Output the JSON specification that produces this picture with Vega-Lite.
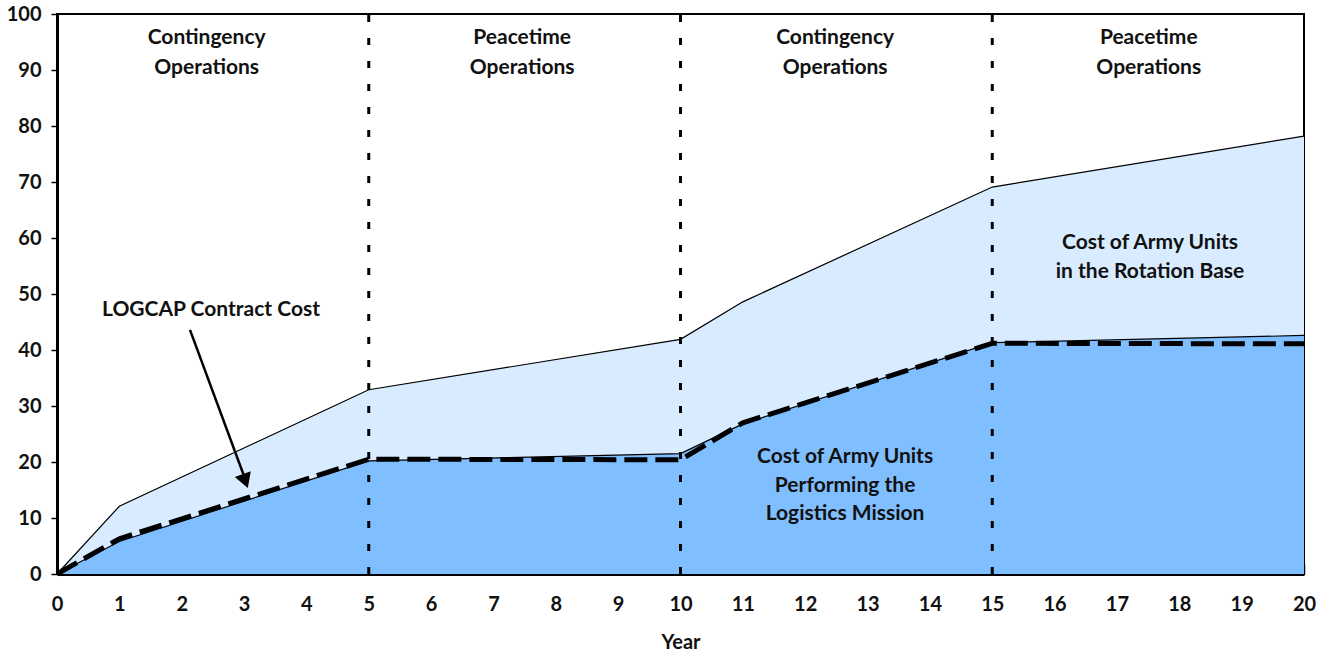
{
  "$schema": "https://vega.github.io/schema/vega-lite/v6.json",
  "autosize": "none",
  "width": 1247,
  "height": 560,
  "padding": {"left": 57, "top": 14, "right": 23, "bottom": 78},
  "background": "white",
  "config": {
    "font": "Lato",
    "view": {"stroke": "black", "strokeWidth": 2},
    "axis": {"grid": false, "labelFont": "Lato", "labelFontWeight": "bold", "labelFontSize": 20, "labelColor": "#111", "titleFont": "Lato", "titleFontWeight": "bold", "titleFontSize": 20, "titleColor": "#111", "domainColor": "black", "domainWidth": 3, "tickColor": "black", "tickWidth": 1.5}
  },
  "datasets": {
    "costs": [
      {"year": 0, "total": 0, "army": 0, "logcap": 0},
      {"year": 1, "total": 12.1, "army": 5.8, "logcap": 6.3},
      {"year": 5, "total": 32.9, "army": 20.2, "logcap": 20.5},
      {"year": 10, "total": 41.9, "army": 21.5, "logcap": 20.4},
      {"year": 11, "total": 48.6, "army": 26.8, "logcap": 27.0},
      {"year": 15, "total": 69.1, "army": 41.3, "logcap": 41.2},
      {"year": 20, "total": 78.2, "army": 42.6, "logcap": 41.1}
    ],
    "phases": [{"year": 5}, {"year": 10}, {"year": 15}],
    "labels": [
      {"x": 2.4, "y": 95.7, "text": "Contingency"},
      {"x": 2.4, "y": 90.4, "text": "Operations"},
      {"x": 7.46, "y": 95.7, "text": "Peacetime"},
      {"x": 7.46, "y": 90.4, "text": "Operations"},
      {"x": 12.48, "y": 95.7, "text": "Contingency"},
      {"x": 12.48, "y": 90.4, "text": "Operations"},
      {"x": 17.51, "y": 95.7, "text": "Peacetime"},
      {"x": 17.51, "y": 90.4, "text": "Operations"},
      {"x": 17.53, "y": 59.1, "text": "Cost of Army Units"},
      {"x": 17.53, "y": 53.9, "text": "in the Rotation Base"},
      {"x": 12.64, "y": 20.9, "text": "Cost of Army Units"},
      {"x": 12.64, "y": 15.7, "text": "Performing the"},
      {"x": 12.64, "y": 10.7, "text": "Logistics Mission"},
      {"x": 2.47, "y": 47.1, "text": "LOGCAP Contract Cost"}
    ],
    "arrow": [{"x": 2.133, "y": 43.6, "x2": 3.0, "y2": 17.5}],
    "arrowhead": [{"x": 3.02, "y": 16.6}]
  },
  "layer": [
    {
      "data": {"name": "costs"},
      "mark": {"type": "area", "color": "#d9ecff"},
      "encoding": {
        "x": {"field": "year", "type": "quantitative", "scale": {"domain": [0, 20], "nice": false},
          "axis": {"values": [0,1,2,3,4,5,6,7,8,9,10,11,12,13,14,15,16,17,18,19,20], "format": "d", "tickSize": -10, "labelPadding": 30, "labelFlush": false, "title": "Year", "titlePadding": 18}},
        "y": {"field": "total", "type": "quantitative", "scale": {"domain": [0, 100], "nice": false},
          "axis": {"values": [0,10,20,30,40,50,60,70,80,90,100], "format": "d", "tickSize": 6, "labelPadding": 10, "title": null}}
      }
    },
    {
      "data": {"name": "costs"},
      "mark": {"type": "area", "color": "#80bfff"},
      "encoding": {
        "x": {"field": "year", "type": "quantitative"},
        "y": {"field": "army", "type": "quantitative"}
      }
    },
    {
      "data": {"name": "costs"},
      "mark": {"type": "line", "color": "black", "strokeWidth": 1.2},
      "encoding": {
        "x": {"field": "year", "type": "quantitative"},
        "y": {"field": "total", "type": "quantitative"}
      }
    },
    {
      "data": {"name": "costs"},
      "mark": {"type": "line", "color": "black", "strokeWidth": 1.2},
      "encoding": {
        "x": {"field": "year", "type": "quantitative"},
        "y": {"field": "army", "type": "quantitative"}
      }
    },
    {
      "data": {"name": "phases"},
      "mark": {"type": "rule", "color": "black", "strokeWidth": 3, "strokeDash": [7, 16]},
      "encoding": {
        "x": {"field": "year", "type": "quantitative"},
        "y": {"datum": 0},
        "y2": {"datum": 100}
      }
    },
    {
      "data": {"name": "costs"},
      "mark": {"type": "line", "color": "black", "strokeWidth": 5, "strokeDash": [23, 8]},
      "encoding": {
        "x": {"field": "year", "type": "quantitative"},
        "y": {"field": "logcap", "type": "quantitative"}
      }
    },
    {
      "data": {"name": "arrow"},
      "mark": {"type": "rule", "color": "black", "strokeWidth": 2.5},
      "encoding": {
        "x": {"field": "x", "type": "quantitative"},
        "y": {"field": "y", "type": "quantitative"},
        "x2": {"field": "x2"},
        "y2": {"field": "y2"}
      }
    },
    {
      "data": {"name": "arrowhead"},
      "mark": {"type": "point", "shape": "triangle-down", "filled": true, "color": "black", "opacity": 1, "size": 289, "angle": 340},
      "encoding": {
        "x": {"field": "x", "type": "quantitative"},
        "y": {"field": "y", "type": "quantitative"}
      }
    },
    {
      "data": {"name": "labels"},
      "mark": {"type": "text", "font": "Lato", "fontWeight": "bold", "fontSize": 21, "color": "#111", "align": "center", "baseline": "middle"},
      "encoding": {
        "x": {"field": "x", "type": "quantitative"},
        "y": {"field": "y", "type": "quantitative"},
        "text": {"field": "text"}
      }
    }
  ]
}
